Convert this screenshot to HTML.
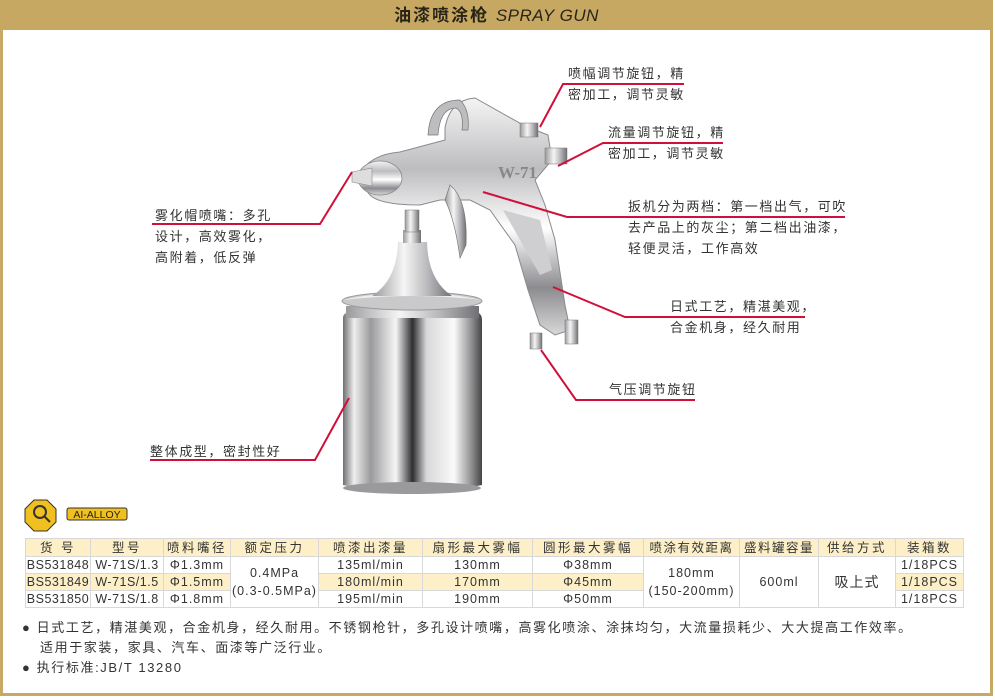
<!DOCTYPE html>
<html><head><meta charset="utf-8"><style>
html,body{margin:0;padding:0;background:#fff;}
body{width:995px;height:700px;position:relative;overflow:hidden;font-family:"Liberation Sans","Noto Sans CJK SC",sans-serif;color:#333;}
.frame{position:absolute;left:0;top:0;width:987px;height:693px;border:3px solid #c8a865;border-top:none;}
.hdr{position:absolute;left:0;top:0;width:993px;height:30px;background:#c6a862;text-align:center;line-height:32px;font-size:17px;font-weight:bold;color:#2a2418;letter-spacing:2px;}
.hdr i{font-weight:normal;letter-spacing:0.5px;}
.t{position:absolute;font-size:13px;letter-spacing:1.6px;white-space:nowrap;line-height:21px;color:#333;}
table{position:absolute;left:25px;top:538px;border-collapse:collapse;font-size:12.5px;color:#333;table-layout:fixed;width:938px;}
td{border:1px solid #d8d8d8;padding:0;text-align:center;height:16px;line-height:16px;letter-spacing:1px;white-space:nowrap;overflow:hidden;}
tr.h td{background:#fdf0c8;letter-spacing:2.5px;height:17px;}
td.y{background:#fdf0c8;}
.b{position:absolute;left:22px;font-size:13px;letter-spacing:1.6px;white-space:nowrap;}
</style></head><body>
<div class="frame"></div>
<div class="hdr">油漆喷涂枪 <i>SPRAY GUN</i></div>

<svg width="995" height="700" style="position:absolute;left:0;top:0">
<defs>
<linearGradient id="cup" x1="0" x2="1" y1="0" y2="0">
<stop offset="0" stop-color="#6f6f72"/><stop offset="0.08" stop-color="#eeeeee"/><stop offset="0.2" stop-color="#9a9a9d"/><stop offset="0.38" stop-color="#f6f6f6"/><stop offset="0.5" stop-color="#2e2e30"/><stop offset="0.6" stop-color="#d8d8da"/><stop offset="0.8" stop-color="#fafafa"/><stop offset="0.93" stop-color="#8a8a8c"/><stop offset="1" stop-color="#444"/>
</linearGradient>
<linearGradient id="met" x1="0" x2="0" y1="0" y2="1">
<stop offset="0" stop-color="#f4f4f4"/><stop offset="0.3" stop-color="#bdbdc0"/><stop offset="0.55" stop-color="#ffffff"/><stop offset="0.8" stop-color="#8c8c90"/><stop offset="1" stop-color="#d8d8d8"/>
</linearGradient>
<linearGradient id="met2" x1="0" x2="1" y1="0" y2="0">
<stop offset="0" stop-color="#9a9a9c"/><stop offset="0.4" stop-color="#f5f5f5"/><stop offset="0.7" stop-color="#b8b8bb"/><stop offset="1" stop-color="#707074"/>
</linearGradient>
</defs>
<path d="M343 318 Q343 312 352 312 L474 312 Q482 312 482 320 L482 485 Q412 500 343 485 Z" fill="url(#cup)"/>
<ellipse cx="412" cy="488" rx="69" ry="6" fill="#9a9a9c"/>
<rect x="346" y="306" width="133" height="12" fill="url(#met2)"/>
<ellipse cx="412" cy="301" rx="70" ry="9" fill="#c9c9cb" stroke="#999" stroke-width="1"/>
<path d="M342 300 Q412 285 482 300 Q412 292 342 300Z" fill="#eee"/>
<path d="M398 242 L427 242 Q428 280 452 296 L372 296 Q397 280 398 242Z" fill="url(#met2)"/>
<rect x="403" y="230" width="18" height="13" fill="url(#met2)"/>
<rect x="405" y="210" width="14" height="22" fill="url(#met2)" stroke="#777" stroke-width="0.5"/>
<path d="M358 180 Q365 155 400 152 L445 140 L445 128 Q450 100 475 98 L525 126 L548 135 L552 160 L535 180 L545 205 L555 240 L565 305 L570 330 L555 335 L540 325 L528 290 L515 245 L490 210 L470 200 L440 200 L420 205 Q380 205 370 195Z" fill="url(#met)" stroke="#8a8a8e" stroke-width="1"/>
<path d="M428 135 Q430 100 460 100 Q470 110 468 130 L462 130 Q464 112 456 108 Q440 108 438 135Z" fill="#bdbdc0" stroke="#777" stroke-width="0.7"/>
<ellipse cx="380" cy="178" rx="22" ry="17" fill="url(#met)" stroke="#888" stroke-width="0.8"/>
<path d="M352 172 L372 168 L372 186 L352 182Z" fill="#ddd" stroke="#888" stroke-width="0.6"/>
<path d="M450 185 Q468 200 466 245 L460 258 Q455 220 445 200Z" fill="url(#met2)" stroke="#777" stroke-width="0.7"/>
<path d="M503 210 L540 220 L552 270 L540 275 Z" fill="#cfcfd2"/>
<text x="498" y="178" font-family="Liberation Serif,serif" font-size="17" font-weight="bold" fill="#888">W-71</text>
<rect x="520" y="123" width="18" height="14" fill="url(#met2)" stroke="#777" stroke-width="0.5"/>
<rect x="545" y="148" width="22" height="16" fill="url(#met2)" stroke="#777" stroke-width="0.5"/>
<rect x="565" y="320" width="13" height="24" fill="url(#met2)" stroke="#777" stroke-width="0.5"/>
<rect x="530" y="333" width="12" height="16" fill="url(#met2)" stroke="#777" stroke-width="0.5"/>
<g fill="none" stroke="#d0103a" stroke-width="2">
<polyline points="540,127 563,84 684,84"/>
<polyline points="558,166 603,143 723,143"/>
<polyline points="483,192 567,217 845,217"/>
<polyline points="553,287 625,317 805,317"/>
<polyline points="541,350 576,400 695,400"/>
<polyline points="352,172 320,224 152,224"/>
<polyline points="349,398 315,460 150,460"/>
</g>
<polygon points="34,500 47,500 56,509 56,522 47,531 34,531 25,522 25,509" fill="#f0c020" stroke="#333" stroke-width="1"/>
<circle cx="40" cy="512" r="6" fill="none" stroke="#333" stroke-width="2"/>
<line x1="44" y1="516" x2="50" y2="522" stroke="#333" stroke-width="2"/>
<rect x="67" y="508" width="60" height="12" rx="2" fill="#f0c020" stroke="#333" stroke-width="1"/>
<text x="97" y="518" font-size="10.5" text-anchor="middle" fill="#222" font-family="Liberation Sans,sans-serif">AI-ALLOY</text>
</svg>

<div class="t" style="left:568px;top:63px">喷幅调节旋钮，精<br>密加工，调节灵敏</div>
<div class="t" style="left:608px;top:122px">流量调节旋钮，精<br>密加工，调节灵敏</div>
<div class="t" style="left:628px;top:196px">扳机分为两档：第一档出气，可吹<br>去产品上的灰尘；第二档出油漆，<br>轻便灵活，工作高效</div>
<div class="t" style="left:670px;top:296px">日式工艺，精湛美观，<br>合金机身，经久耐用</div>
<div class="t" style="left:609px;top:379px">气压调节旋钮</div>
<div class="t" style="left:155px;top:205px">雾化帽喷嘴：多孔<br>设计，高效雾化，<br>高附着，低反弹</div>
<div class="t" style="left:150px;top:441px">整体成型，密封性好</div>

<table>
<colgroup><col style="width:65px"><col style="width:73px"><col style="width:67px"><col style="width:88px"><col style="width:104px"><col style="width:110px"><col style="width:111px"><col style="width:96px"><col style="width:79px"><col style="width:77px"><col style="width:68px"></colgroup>
<tr class="h"><td>货 号</td><td>型号</td><td>喷料嘴径</td><td>额定压力</td><td>喷漆出漆量</td><td>扇形最大雾幅</td><td>圆形最大雾幅</td><td style="letter-spacing:1.5px">喷涂有效距离</td><td style="letter-spacing:1.5px">盛料罐容量</td><td>供给方式</td><td>装箱数</td></tr>
<tr><td style="letter-spacing:0.5px">BS531848</td><td style="letter-spacing:0.5px">W-71S/1.3</td><td>Φ1.3mm</td><td rowspan="3" style="line-height:18px">0.4MPa<br>(0.3-0.5MPa)</td><td>135ml/min</td><td>130mm</td><td>Φ38mm</td><td rowspan="3" style="line-height:18px">180mm<br>(150-200mm)</td><td rowspan="3">600ml</td><td rowspan="3" style="font-size:14px">吸上式</td><td>1/18PCS</td></tr>
<tr><td class="y" style="letter-spacing:0.5px">BS531849</td><td class="y" style="letter-spacing:0.5px">W-71S/1.5</td><td class="y">Φ1.5mm</td><td class="y">180ml/min</td><td class="y">170mm</td><td class="y">Φ45mm</td><td class="y">1/18PCS</td></tr>
<tr><td style="letter-spacing:0.5px">BS531850</td><td style="letter-spacing:0.5px">W-71S/1.8</td><td>Φ1.8mm</td><td>195ml/min</td><td>190mm</td><td>Φ50mm</td><td>1/18PCS</td></tr>
</table>

<div class="b" style="top:617px">●&nbsp;日式工艺，精湛美观，合金机身，经久耐用。不锈钢枪针，多孔设计喷嘴，高雾化喷涂、涂抹均匀，大流量损耗少、大大提高工作效率。</div>
<div class="b" style="top:637px;left:40px">适用于家装，家具、汽车、面漆等广泛行业。</div>
<div class="b" style="top:657px">●&nbsp;执行标准:JB/T 13280</div>
</body></html>
